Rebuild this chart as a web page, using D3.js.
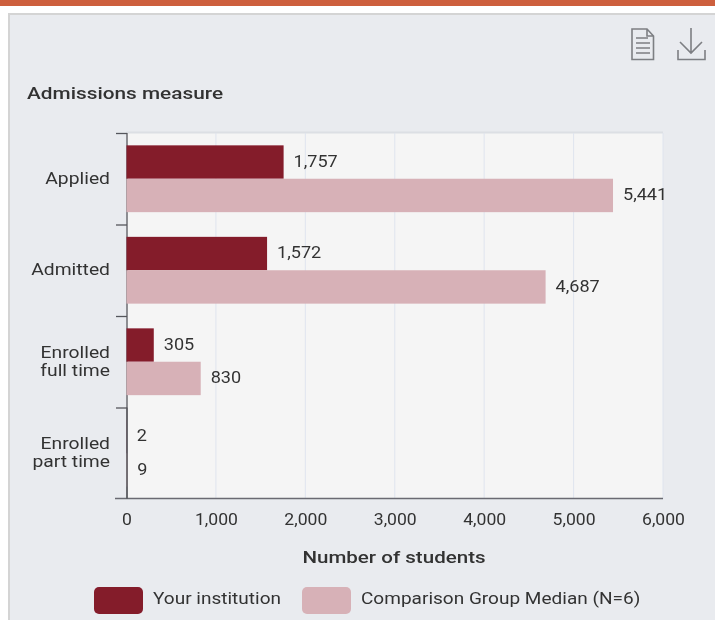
<!DOCTYPE html>
<html><head><meta charset="utf-8">
<script src="https://cdn.jsdelivr.net/npm/d3@7/dist/d3.min.js"></script>
<style>
html,body{margin:0;padding:0;background:#fff;overflow:hidden}
text{font-family:Roboto,sans-serif;fill:#333}
</style></head><body>
<svg id="c" width="715" height="620"></svg>
<script>
const categories=[["Applied"],["Admitted"],["Enrolled","full time"],["Enrolled","part time"]];
const institution=[1757,1572,305,2];
const comparison=[5441,4687,830,9];
const seriesNames=["Your institution","Comparison Group Median (N=6)"];
const xTicks=[0,1000,2000,3000,4000,5000,6000];
const colors=["#841a2c","#d7b1b7"];

// the reference text is horizontally stretched
const stretch=(px,k)=>`translate(${px},0) scale(${k},1) translate(${-px},0)`;

const svg=d3.select("#c");
const defs=svg.append("defs");
defs.append("filter").attr("id","soft").append("feGaussianBlur").attr("stdDeviation",0.45);
const root=svg.append("g").attr("filter","url(#soft)");
root.append("rect").attr("x",0).attr("y",0).attr("width",715).attr("height",6).attr("fill","#cd5f3c");
root.append("rect").attr("x",9).attr("y",14).attr("width",710).attr("height",610).attr("fill","#e9ebef").attr("stroke","#d4d4d4").attr("stroke-width",2);

const L=126.5,R=663,T=133,B=499;
const x=d3.scaleLinear().domain([0,6000]).range([L,R]);
const idx=d3.range(categories.length);
const y=d3.scaleBand().domain(idx).range([T,B]).paddingInner(0.27).paddingOuter(0.135);
const sub=d3.scaleBand().domain([0,1]).range([0,y.bandwidth()]);
const step=y.step();

root.append("rect").attr("x",L).attr("y",T).attr("width",R-L).attr("height",B-T).attr("fill","#f5f5f5");
root.append("line").attr("x1",L).attr("x2",R).attr("y1",T-0.5).attr("y2",T-0.5).attr("stroke","#dcdfe4").attr("stroke-width",2);
root.append("g").selectAll("line").data(xTicks.slice(1)).join("line")
 .attr("x1",d=>x(d)).attr("x2",d=>x(d)).attr("y1",T).attr("y2",B).attr("stroke","#dfe4ee").attr("stroke-width",1);

// y axis with ticks at band boundaries
const ax=root.append("g");
ax.append("line").attr("x1",127).attr("x2",127).attr("y1",T).attr("y2",B).attr("stroke","#55565c").attr("stroke-width",1.3);
ax.selectAll(".t").data(d3.range(categories.length)).join("line").attr("class","t")
 .attr("x1",116).attr("x2",127).attr("y1",d=>T+d*step+0.5).attr("y2",d=>T+d*step+0.5).attr("stroke","#55565c").attr("stroke-width",1.3);

// x axis
const xa=root.append("g").attr("transform",`translate(0,${B})`)
 .call(d3.axisBottom(x).tickValues(xTicks).tickFormat(d3.format(",")).tickSize(0).tickPadding(15));
xa.select(".domain").remove();
xa.selectAll("text").attr("font-size",16).attr("fill","#333").style("font-family","Roboto,sans-serif").attr("transform","scale(1.1,1)");
root.append("line").attr("x1",115).attr("x2",R).attr("y1",B-0.5).attr("y2",B-0.5).attr("stroke","#6a6b72").attr("stroke-width",1.6);

// bars
[institution,comparison].forEach((vals,s)=>{
 root.append("g").selectAll("rect").data(vals).join("rect")
  .attr("x",L).attr("y",(d,i)=>y(i)+sub(s)).attr("width",d=>x(d)-L).attr("height",sub.bandwidth()).attr("fill",colors[s]);
 root.append("g").selectAll("text").data(vals).join("text")
  .attr("x",d=>x(d)+10).attr("y",(d,i)=>y(i)+sub(s)+sub.bandwidth()/2-1).attr("dy","0.35em")
  .attr("transform",d=>stretch(x(d)+10,1.13))
  .attr("font-size",16).text(d3.format(","));
});
// the axis stays visible beside the near-zero bars
root.append("line").attr("x1",127).attr("x2",127).attr("y1",T+3*step).attr("y2",B).attr("stroke","#55565c").attr("stroke-width",1.3);

// category labels
categories.forEach((lines,i)=>{
 const cy=y(i)+y.bandwidth()/2;
 const t=root.append("text").attr("text-anchor","end").attr("font-size",16.5).attr("transform",stretch(110,1.17));
 lines.forEach((l,j)=>t.append("tspan").attr("x",110).attr("y",cy+(j-(lines.length-1)/2)*18+5).text(l));
});

root.append("text").attr("x",27).attr("y",99).attr("font-size",17).attr("font-weight",500).attr("transform",stretch(27,1.225)).text("Admissions measure");
root.append("text").attr("x",394).attr("y",563).attr("text-anchor","middle").attr("font-size",17).attr("font-weight",500).attr("transform",stretch(394,1.21)).text("Number of students");

// legend
const lx=[94,302];
seriesNames.forEach((n,i)=>{
 root.append("rect").attr("x",lx[i]).attr("y",587).attr("width",49).attr("height",27).attr("rx",5).attr("fill",colors[i]);
 root.append("text").attr("x",lx[i]+59).attr("y",604).attr("font-size",17).attr("transform",stretch(lx[i]+59,1.12)).text(n);
});

// icons
const ic=root.append("g").attr("fill","none").attr("stroke","#7d7f83").attr("stroke-width",1.6);
ic.append("path").attr("d","M632 29H647L653.5 36V59.5H632Z M647 29V36H653.5 M636 38H648 M636 43H650 M636 48H650 M636 53H650");
ic.append("path").attr("d","M691 28V52 M680 42L691 53L702 42 M678 50V59.5H705V50");
</script></body></html>
